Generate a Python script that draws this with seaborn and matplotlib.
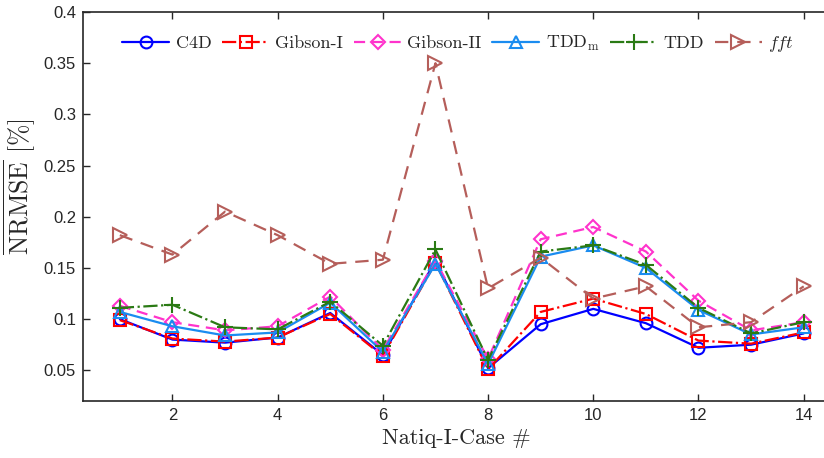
import matplotlib
matplotlib.use("Agg")
import matplotlib.pyplot as plt
import seaborn as sns
import pandas as pd

# Natiq-I cases and the mean NRMSE [%] of each method
cases = list(range(1, 15))
c4d = [0.100, 0.080, 0.077, 0.082, 0.106, 0.065, 0.157, 0.052, 0.095, 0.110, 0.096, 0.072, 0.075, 0.086]
gibson_1 = [0.099, 0.081, 0.078, 0.082, 0.105, 0.064, 0.155, 0.051, 0.107, 0.120, 0.105, 0.079, 0.076, 0.087]
gibson_2 = [0.113, 0.097, 0.089, 0.093, 0.122, 0.070, 0.157, 0.061, 0.178, 0.190, 0.166, 0.118, 0.089, 0.097]
tdd_m = [0.107, 0.093, 0.084, 0.087, 0.116, 0.068, 0.154, 0.056, 0.161, 0.172, 0.150, 0.109, 0.085, 0.092]
tdd = [0.111, 0.114, 0.092, 0.090, 0.117, 0.074, 0.168, 0.060, 0.166, 0.172, 0.153, 0.111, 0.086, 0.097]
fft = [0.182, 0.163, 0.205, 0.182, 0.154, 0.158, 0.350, 0.130, 0.160, 0.120, 0.132, 0.092, 0.097, 0.132]

series_names = ["C4D", "Gibson-I", "Gibson-II", r"TDD$_\mathrm{m}$", "TDD", r"$\mathit{fft}$"]
x_ticks = [2, 4, 6, 8, 10, 12, 14]
y_ticks = [0.05, 0.1, 0.15, 0.2, 0.25, 0.3, 0.35, 0.4]
y_tick_labels = ["0.05", "0.1", "0.15", "0.2", "0.25", "0.3", "0.35", "0.4"]

sns.set_style("ticks")
plt.rcParams["mathtext.fontset"] = "cm"
plt.rcParams["font.family"] = ["Liberation Sans", "DejaVu Sans"]

styles = [
    dict(color="#0000FF", linestyle="-", marker="o"),
    dict(color="#FF0000", linestyle="-.", marker="s"),
    dict(color="#FF33CC", linestyle=(0, (5, 3)), marker="D"),
    dict(color="#1A8CF0", linestyle="-", marker="^"),
    dict(color="#2A7A14", linestyle="-.", marker="+"),
    dict(color="#B55E5A", linestyle=(0, (6, 4)), marker=">"),
]
marker_sizes = [8.5, 8, 7, 9, 11, 10]

df = pd.DataFrame({"case": cases})
values = [c4d, gibson_1, gibson_2, tdd_m, tdd, fft]

fig = plt.figure(figsize=(8.24, 4.58), dpi=100)
ax = fig.add_axes([83 / 824, 57 / 458, 747 / 824, 389 / 458])

for name, vals, st, ms in zip(series_names, values, styles, marker_sizes):
    d = df.assign(v=vals)
    sns.lineplot(
        data=d, x="case", y="v", ax=ax, label=name,
        color=st["color"], linestyle=st["linestyle"], marker=st["marker"],
        markersize=ms, markerfacecolor="none", markeredgecolor=st["color"],
        markeredgewidth=1.5, linewidth=1.6,
    )

ax.set_xlim(0.3, 14.5)
ax.set_ylim(0.02, 0.4)
ax.set_xticks(x_ticks)
ax.set_xticklabels([str(t) for t in x_ticks], fontsize=12)
ax.set_yticks(y_ticks)
ax.set_yticklabels(y_tick_labels, fontsize=12)
ax.tick_params(direction="in", top=True, right=False, length=5, width=1.0,
               color="#262626", labelcolor="#262626", pad=5)
for s in ax.spines.values():
    s.set_linewidth(1.2)
    s.set_color("#262626")

ax.set_xlabel("Natiq-I-Case #", fontfamily="cmr10", fontsize=16, color="#262626", labelpad=4)
ax.set_ylabel(r"$\overline{\mathrm{NRMSE}}$ [%]", fontfamily="cmr10", fontsize=18.5,
              color="#262626")
ax.yaxis.set_label_coords(-0.06, 0.55)

leg = ax.legend(loc="upper center", bbox_to_anchor=(0.502, 0.985), ncol=6, frameon=False,
                prop={"family": "cmr10", "size": 13}, handlelength=2.6,
                columnspacing=0.6, handletextpad=0.35)

fig.savefig("out.png", dpi=100)
